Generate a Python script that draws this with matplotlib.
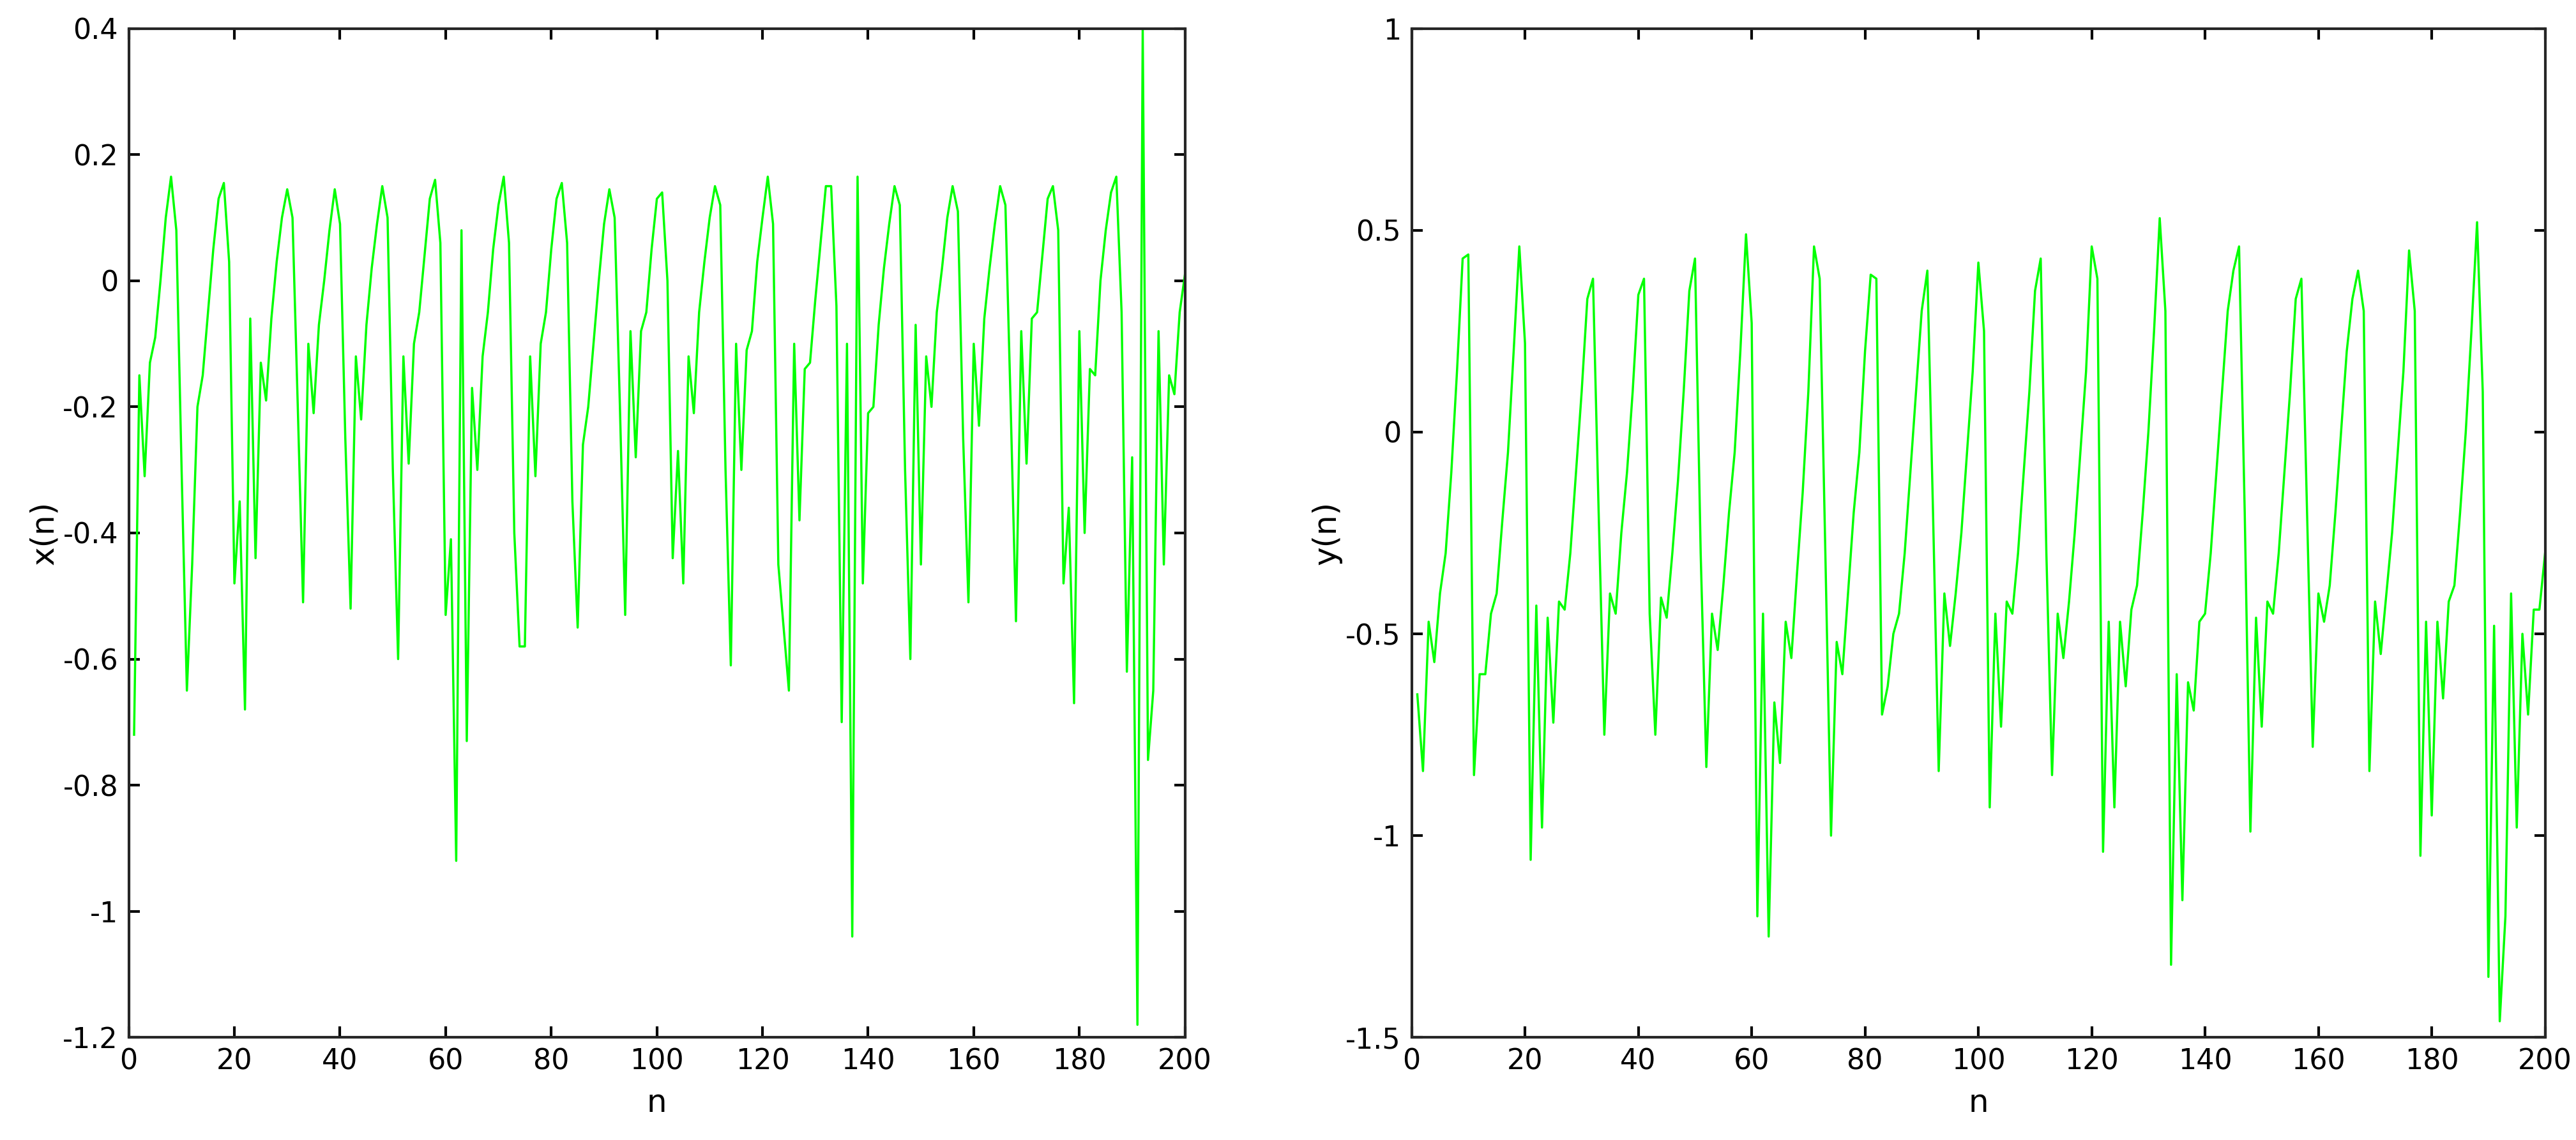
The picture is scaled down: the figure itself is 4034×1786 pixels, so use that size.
import matplotlib
matplotlib.use("Agg")
import matplotlib.pyplot as plt
import numpy as np

x_vals = [-0.72,-0.15,-0.31,-0.13,-0.09,0.0,0.1,0.165,0.08,-0.3,-0.65,-0.45,-0.2,-0.15,-0.05,0.05,0.13,0.155,0.03,-0.48,
-0.35,-0.68,-0.06,-0.44,-0.13,-0.19,-0.06,0.03,0.1,0.145,0.1,-0.2,-0.51,-0.1,-0.21,-0.07,0.0,0.08,0.145,0.09,
-0.25,-0.52,-0.12,-0.22,-0.07,0.02,0.09,0.15,0.1,-0.3,-0.6,-0.12,-0.29,-0.1,-0.05,0.04,0.13,0.16,0.06,-0.53,
-0.41,-0.92,0.08,-0.73,-0.17,-0.3,-0.12,-0.05,0.05,0.12,0.165,0.06,-0.4,-0.58,-0.58,-0.12,-0.31,-0.1,-0.05,0.05,
0.13,0.155,0.06,-0.35,-0.55,-0.26,-0.2,-0.1,0.0,0.09,0.145,0.1,-0.2,-0.53,-0.08,-0.28,-0.08,-0.05,0.05,0.13,
0.14,0.0,-0.44,-0.27,-0.48,-0.12,-0.21,-0.05,0.03,0.1,0.15,0.12,-0.3,-0.61,-0.1,-0.3,-0.11,-0.08,0.03,0.1,
0.165,0.09,-0.45,-0.55,-0.65,-0.1,-0.38,-0.14,-0.13,-0.03,0.06,0.15,0.15,-0.04,-0.7,-0.1,-1.04,0.165,-0.48,-0.21,
-0.2,-0.07,0.02,0.09,0.15,0.12,-0.3,-0.6,-0.07,-0.45,-0.12,-0.2,-0.05,0.02,0.1,0.15,0.11,-0.25,-0.51,-0.1,
-0.23,-0.06,0.02,0.09,0.15,0.12,-0.2,-0.54,-0.08,-0.29,-0.06,-0.05,0.04,0.13,0.15,0.08,-0.48,-0.36,-0.67,-0.08,
-0.4,-0.14,-0.15,0.0,0.08,0.14,0.165,-0.05,-0.62,-0.28,-1.18,0.4,-0.76,-0.65,-0.08,-0.45,-0.15,-0.18,-0.05,0.01]

y_vals = [-0.65,-0.84,-0.47,-0.57,-0.4,-0.3,-0.1,0.15,0.43,0.44,-0.85,-0.6,-0.6,-0.45,-0.4,-0.22,-0.05,0.2,0.46,0.22,
-1.06,-0.43,-0.98,-0.46,-0.72,-0.42,-0.44,-0.3,-0.1,0.1,0.33,0.38,-0.2,-0.75,-0.4,-0.45,-0.25,-0.1,0.1,0.34,
0.38,-0.45,-0.75,-0.41,-0.46,-0.3,-0.12,0.1,0.35,0.43,-0.3,-0.83,-0.45,-0.54,-0.38,-0.2,-0.05,0.2,0.49,0.27,
-1.2,-0.45,-1.25,-0.67,-0.82,-0.47,-0.56,-0.35,-0.15,0.1,0.46,0.38,-0.3,-1.0,-0.52,-0.6,-0.4,-0.2,-0.05,0.2,
0.39,0.38,-0.7,-0.63,-0.5,-0.45,-0.3,-0.1,0.1,0.3,0.4,-0.2,-0.84,-0.4,-0.53,-0.4,-0.25,-0.05,0.15,0.42,
0.25,-0.93,-0.45,-0.73,-0.42,-0.45,-0.3,-0.1,0.1,0.35,0.43,-0.3,-0.85,-0.45,-0.56,-0.42,-0.25,-0.05,0.15,0.46,
0.38,-1.04,-0.47,-0.93,-0.47,-0.63,-0.44,-0.38,-0.2,0.0,0.25,0.53,0.3,-1.32,-0.6,-1.16,-0.62,-0.69,-0.47,-0.45,
-0.3,-0.1,0.1,0.3,0.4,0.46,-0.2,-0.99,-0.46,-0.73,-0.42,-0.45,-0.3,-0.1,0.1,0.33,0.38,-0.2,-0.78,-0.4,-0.47,
-0.38,-0.2,0.0,0.2,0.33,0.4,0.3,-0.84,-0.42,-0.55,-0.4,-0.25,-0.05,0.15,0.45,0.3,-1.05,-0.47,-0.95,-0.47,-0.66,
-0.42,-0.38,-0.2,0.0,0.25,0.52,0.1,-1.35,-0.48,-1.46,-1.2,-0.4,-0.98,-0.5,-0.7,-0.44,-0.44,-0.3]

n_x = np.arange(1, len(x_vals) + 1)
n_y = np.arange(1, len(y_vals) + 1)

plt.rcParams['font.family'] = ['DejaVu Sans']
fig = plt.figure(figsize=(40.34, 17.86), dpi=100)
ax1 = fig.add_axes([0.050, 0.090, 0.410, 0.885])
ax2 = fig.add_axes([0.548, 0.090, 0.440, 0.885])

for ax, n, vals, lab, yl, yt, ytl in [
    (ax1, n_x, x_vals, 'x(n)', (-1.2, 0.4), np.arange(-1.2, 0.41, 0.2), ['-1.2','-1','-0.8','-0.6','-0.4','-0.2','0','0.2','0.4']),
    (ax2, n_y, y_vals, 'y(n)', (-1.5, 1.0), np.arange(-1.5, 1.01, 0.5), ['-1.5','-1','-0.5','0','0.5','1']),
]:
    ax.plot(n, vals, color='#00ff00', lw=2.5)
    ax.set_xlim(0, 200)
    ax.set_ylim(*yl)
    ax.set_xticks(np.arange(0, 201, 20))
    ax.set_yticks(yt)
    ax.set_yticklabels(ytl)
    ax.tick_params(labelsize=32, width=3, length=12, direction='in', top=True, right=True, pad=12)
    for s in ax.spines.values():
        s.set_linewidth(3)
        s.set_color('#262626')
    ax.set_xlabel('n', fontsize=36, labelpad=14)
    ax.set_ylabel(lab, fontsize=36)

fig.savefig('out.png', dpi=100)
